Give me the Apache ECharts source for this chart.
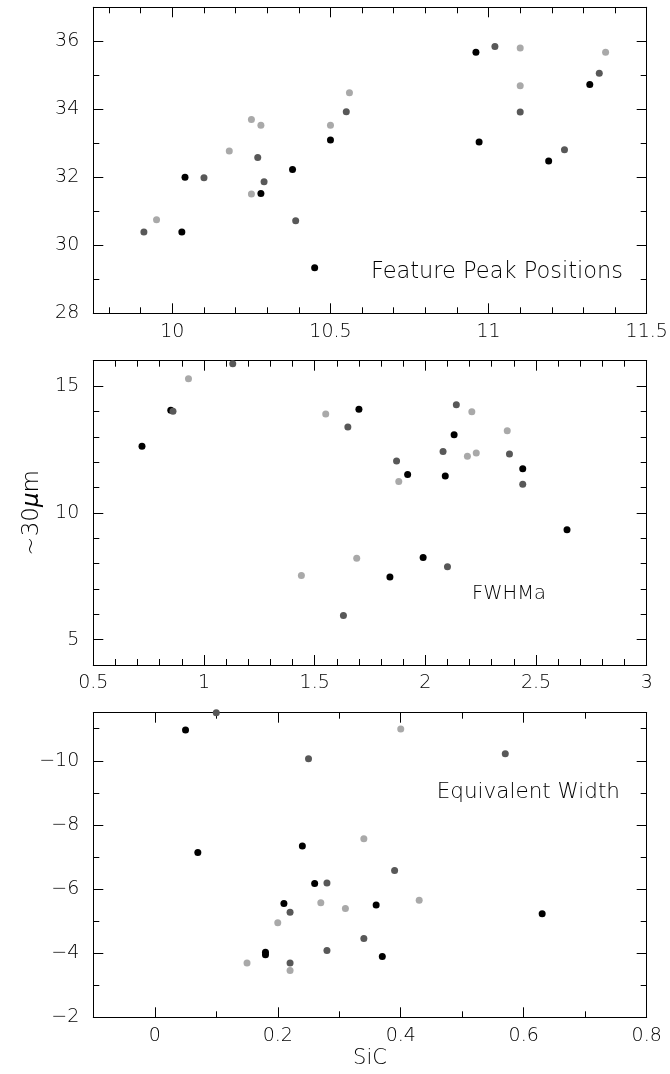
<!DOCTYPE html>
<html><head><meta charset="utf-8">
<script src="https://cdn.jsdelivr.net/npm/echarts@6/dist/echarts.min.js"></script>
<style>html,body{margin:0;padding:0;background:#fff}#c{width:670px;height:1074px}</style>
</head><body><div id="c"></div>
<script>
// ---------- DATA ----------
// Panel 1: Feature Peak Positions  [SiC peak, ~30um peak]
const peakBlack = [[10.03,30.39],[10.04,32.00],[10.28,31.52],[10.38,32.23],[10.45,29.34],[10.50,33.10],[10.96,35.68],[10.97,33.04],[11.19,32.48],[11.32,34.73]];
const peakDark  = [[9.91,30.39],[10.10,31.99],[10.27,32.58],[10.29,31.87],[10.39,30.72],[10.55,33.93],[11.02,35.85],[11.10,33.92],[11.24,32.81],[11.35,35.06]];
const peakLight = [[9.95,30.75],[10.18,32.77],[10.25,33.70],[10.28,33.53],[10.25,31.51],[10.50,33.53],[10.56,34.49],[11.10,35.80],[11.10,34.69],[11.37,35.68]];
// Panel 2: FWHMa
const fwhmBlack = [[0.72,12.63],[0.85,14.05],[1.70,14.09],[1.92,11.51],[2.09,11.45],[2.13,13.08],[2.44,11.74],[2.64,9.33],[1.99,8.24],[1.84,7.47]];
const fwhmDark  = [[0.86,14.01],[1.13,15.88],[1.65,13.39],[1.87,12.04],[2.08,12.42],[2.14,14.26],[2.38,12.32],[2.44,11.13],[2.10,7.87],[1.63,5.95]];
const fwhmLight = [[0.93,15.29],[1.55,13.90],[1.44,7.53],[1.88,11.24],[2.21,13.99],[2.19,12.23],[2.23,12.36],[2.37,13.24],[1.69,8.21]];
// Panel 3: Equivalent Width
const ewBlack = [[0.05,-10.96],[0.07,-7.14],[0.24,-7.34],[0.26,-6.17],[0.21,-5.55],[0.18,-4.03],[0.18,-3.95],[0.36,-5.50],[0.63,-5.23],[0.37,-3.90]];
const ewDark  = [[0.10,-11.5],[0.25,-10.06],[0.28,-6.19],[0.22,-5.28],[0.28,-4.08],[0.22,-3.69],[0.57,-10.22],[0.39,-6.58],[0.34,-4.46]];
const ewLight = [[0.27,-5.57],[0.20,-4.95],[0.15,-3.69],[0.22,-3.46],[0.40,-10.99],[0.34,-7.57],[0.31,-5.39],[0.43,-5.65]];

// axis ranges and ticks
const p1XRange = [9.75, 11.5], p1YRange = [28, 37];
const p1XMajor = [10, 10.5, 11, 11.5];
const p1XMinor = [9.8, 9.9, 10.1, 10.2, 10.3, 10.4, 10.6, 10.7, 10.8, 10.9, 11.1, 11.2, 11.3, 11.4];
const p1YMajor = [28, 30, 32, 34, 36];
const p1YMinor = [29, 31, 33, 35];

const p2XRange = [0.5, 3], p2YRange = [4, 16];
const p2XMajor = [0.5, 1, 1.5, 2, 2.5, 3];
const p2XMinor = [0.6,0.7,0.8,0.9,1.1,1.2,1.3,1.4,1.6,1.7,1.8,1.9,2.1,2.2,2.3,2.4,2.6,2.7,2.8,2.9];
const p2YMajor = [5, 10, 15];
const p2YMinor = [6, 7, 8, 9, 11, 12, 13, 14];

const p3XRange = [-0.1, 0.8], p3YRange = [-11.5, -2];
const p3XMajor = [0, 0.2, 0.4, 0.6, 0.8];
const p3XMinor = [0.1, 0.3, 0.5, 0.7];
const p3YMajor = [-10, -8, -6, -4, -2];
const p3YMinor = [-11, -9, -7, -5, -3];

const panelLabels = ['Feature Peak Positions', 'FWHMa', 'Equivalent Width'];
const yAxisTitle = '~30{mu|\u03bc}m';
const xAxisTitle = 'SiC';

// ---------- STYLE / LAYOUT ----------
const FONT = 'DejaVu Sans';
const FW = 200;
const INK = '#000';
const COLORS = ['#000000', '#585858', '#a9a9a9'];
const MAJ = 10, MIN = 6;
const gridBoxes = [
  {left: 93.3, top: 7.3, width: 553.4, height: 306},
  {left: 93.3, top: 360.7, width: 553.4, height: 304.3},
  {left: 93.3, top: 712.7, width: 553.4, height: 304.6}
];
const fmt = v => v < 0 ? '\u2212' + String(-v) : String(v);

const panels = [
  {xr: p1XRange, yr: p1YRange, xM: p1XMajor, xm: p1XMinor, yM: p1YMajor, ym: p1YMinor, inv: false,
   data: [peakBlack, peakDark, peakLight]},
  {xr: p2XRange, yr: p2YRange, xM: p2XMajor, xm: p2XMinor, yM: p2YMajor, ym: p2YMinor, inv: false,
   data: [fwhmBlack, fwhmDark, fwhmLight]},
  {xr: p3XRange, yr: p3YRange, xM: p3XMajor, xm: p3XMinor, yM: p3YMajor, ym: p3YMinor, inv: true,
   data: [ewBlack, ewDark, ewLight]}
];

const grid = [], xAxis = [], yAxis = [], series = [];
function axisDef(g, range, pos, ticks, len, showLine, showLabel, inv, extra) {
  return Object.assign({
    type: 'value', gridIndex: g, position: pos, min: range[0], max: range[1], inverse: !!inv,
    axisLine: {show: showLine, onZero: false, lineStyle: {color: INK, width: 1}},
    axisTick: {show: true, inside: true, length: len, customValues: ticks, lineStyle: {color: INK, width: 1}},
    axisLabel: {show: showLabel, customValues: ticks, formatter: fmt, color: INK,
                fontFamily: FONT, fontWeight: FW, fontSize: 19, margin: (pos === 'left' ? 14 : 9)},
    splitLine: {show: false}, minorTick: {show: false}, minorSplitLine: {show: false}
  }, extra || {});
}
panels.forEach((p, g) => {
  grid.push(Object.assign({outerBoundsMode: 'none', containLabel: false}, gridBoxes[g]));
  const xBase = xAxis.length, yBase = yAxis.length;
  const xExtra = g === 2 ? {name: xAxisTitle, nameLocation: 'middle', nameGap: 31,
      nameTextStyle: {fontFamily: FONT, fontWeight: FW, fontSize: 21, color: INK}} : {};
  const yExtra = g === 1 ? {name: yAxisTitle, nameLocation: 'middle', nameGap: 50, nameRotate: 90,
      nameTextStyle: {fontFamily: FONT, fontWeight: FW, fontSize: 23, color: INK,
        rich: {mu: {fontFamily: FONT, fontWeight: FW, fontSize: 23, fontStyle: 'italic', color: INK}}}} : {};
  xAxis.push(axisDef(g, p.xr, 'bottom', p.xM, MAJ, true, true, false, xExtra));
  xAxis.push(axisDef(g, p.xr, 'bottom', p.xm, MIN, false, false, false));
  xAxis.push(axisDef(g, p.xr, 'top', p.xM, MAJ, true, false, false));
  xAxis.push(axisDef(g, p.xr, 'top', p.xm, MIN, false, false, false));
  yAxis.push(axisDef(g, p.yr, 'left', p.yM, MAJ, true, true, p.inv, yExtra));
  yAxis.push(axisDef(g, p.yr, 'left', p.ym, MIN, false, false, p.inv));
  yAxis.push(axisDef(g, p.yr, 'right', p.yM, MAJ, true, false, p.inv));
  yAxis.push(axisDef(g, p.yr, 'right', p.ym, MIN, false, false, p.inv));
  p.data.forEach((d, k) => {
    series.push({
      type: 'scatter', xAxisIndex: xBase, yAxisIndex: yBase, data: d,
      symbol: 'circle', symbolSize: 7, itemStyle: {color: COLORS[k], opacity: 1},
      emphasis: {disabled: true}, silent: true, z: 2 + k
    });
  });
});

const textStyle = (t, x, y, align, size) => ({
  type: 'text', x: x, y: y, silent: true, z: 10,
  style: {text: t, fill: INK, font: FW + ' ' + size + 'px "' + FONT + '"',
          textAlign: align, align: align, textVerticalAlign: 'middle', verticalAlign: 'middle'}
});

const chart = echarts.init(document.getElementById('c'), null, {renderer: 'canvas'});
chart.setOption({
  animation: false,
  backgroundColor: '#fff',
  grid, xAxis, yAxis, series,
  graphic: [
    textStyle(panelLabels[0], 623, 272, 'right', 22.5),
    textStyle(panelLabels[1], 472, 594, 'left', 19.5),
    textStyle(panelLabels[2], 620, 792, 'right', 21.5)
  ]
});
</script>
</body></html>
